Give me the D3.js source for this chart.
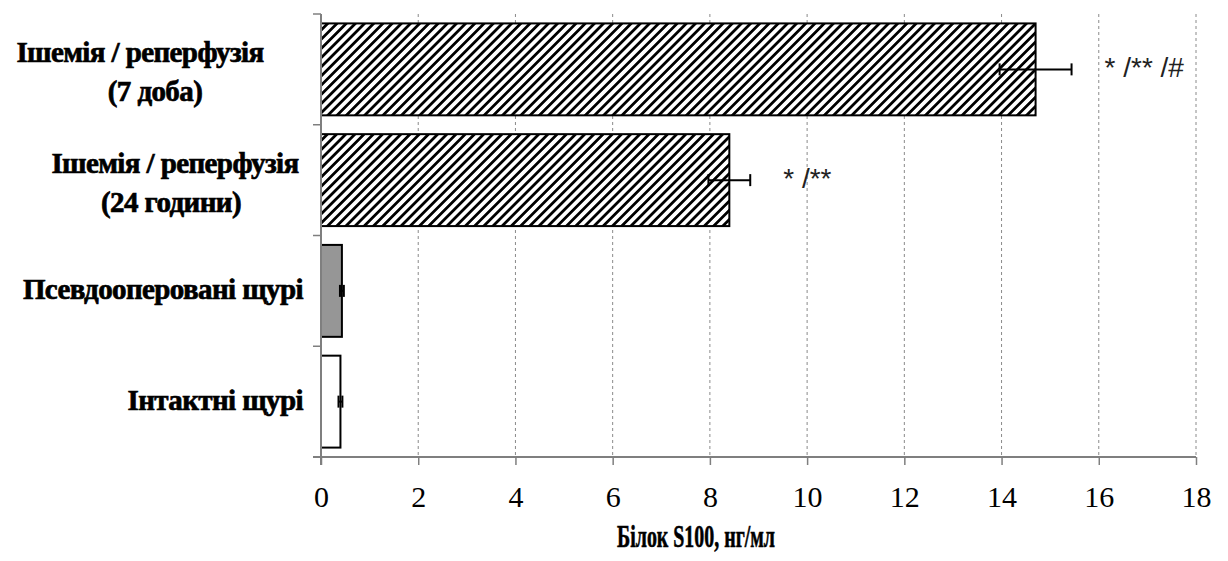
<!DOCTYPE html>
<html>
<head>
<meta charset="utf-8">
<script src="https://cdnjs.cloudflare.com/ajax/libs/d3/7.8.5/d3.min.js"></script>
<style>
  body { margin: 0; background: #fff; }
  svg { display: block; }
</style>
</head>
<body>
<div id="chart"></div>
<script>
// дані (зверху вниз)
const categories = ["Ішемія / реперфузія (7 доба)", "Ішемія / реперфузія (24 години)", "Псевдооперовані щурі", "Інтактні щурі"];
const labelLines = [["Ішемія / реперфузія", "(7 доба)"], ["Ішемія / реперфузія", "(24 години)"], ["Псевдооперовані щурі"], ["Інтактні щурі"]];
const values = [14.7, 8.4, 0.43, 0.40];
const errors = [0.74, 0.43, 0.04, 0.04];
const marks = ["* /** /#", "* /**", "", ""];
const fills = ["hatch", "hatch", "gray", "white"];
const xTicks = [0, 2, 4, 6, 8, 10, 12, 14, 16, 18];
const xTitle = "Білок S100, нг/мл";

// параметри
const W = 1228, H = 561;
const pLeft = 321, pRight = 1196, pTop = 14, pBottom = 457;
const serif = "'Liberation Serif', 'Times New Roman', serif";

const svg = d3.select("#chart").append("svg")
  .attr("width", W).attr("height", H);

const defs = svg.append("defs");
const pat = defs.append("pattern")
  .attr("id", "hatch")
  .attr("patternUnits", "userSpaceOnUse")
  .attr("width", 6.5).attr("height", 6.5)
  .attr("patternTransform", "rotate(45)");
pat.append("rect").attr("width", 6.5).attr("height", 6.5).attr("fill", "#fff");
pat.append("line")
  .attr("x1", 0).attr("y1", -1).attr("x2", 0).attr("y2", 8)
  .attr("stroke", "#000").attr("stroke-width", 5.6);

const x = d3.scaleLinear().domain([0, 18]).range([pLeft, pRight]);
const y = d3.scaleBand().domain(categories).range([pTop, pBottom])
  .paddingInner(0.17).paddingOuter(0.085);

// сітка
svg.append("g").selectAll("line")
  .data(xTicks.slice(1))
  .join("line")
  .attr("x1", d => x(d)).attr("x2", d => x(d))
  .attr("y1", pTop).attr("y2", pBottom)
  .attr("stroke", "#8a8a8a").attr("stroke-width", 1)
  .attr("stroke-dasharray", "3,3");

// стовпці
const fillOf = f => f === "hatch" ? "url(#hatch)" : (f === "gray" ? "#969696" : "#fff");
svg.append("g").selectAll("rect")
  .data(categories)
  .join("rect")
  .attr("x", x(0))
  .attr("y", d => y(d))
  .attr("width", (d, i) => x(values[i]) - x(0))
  .attr("height", y.bandwidth())
  .attr("fill", (d, i) => fillOf(fills[i]))
  .attr("stroke", "#000").attr("stroke-width", 2);

// похибки
const eb = svg.append("g").attr("stroke", "#000").attr("stroke-width", 2);
categories.forEach((c, i) => {
  const cy = y(c) + y.bandwidth() / 2;
  const x0 = x(values[i] - errors[i]), x1 = x(values[i] + errors[i]);
  eb.append("line").attr("x1", x0).attr("x2", x1).attr("y1", cy).attr("y2", cy);
  eb.append("line").attr("x1", x0).attr("x2", x0).attr("y1", cy - 6).attr("y2", cy + 6);
  eb.append("line").attr("x1", x1).attr("x2", x1).attr("y1", cy - 6).attr("y2", cy + 6);
});

// позначки значущості
svg.append("g").selectAll("text")
  .data(categories)
  .join("text")
  .attr("x", (d, i) => x(values[i] + errors[i]) + 33)
  .attr("y", d => y(d) + y.bandwidth() / 2 + 8)
  .attr("font-family", "'Liberation Sans', Arial, sans-serif")
  .attr("font-size", 28)
  .attr("fill", "#222")
  .text((d, i) => marks[i]);

// вісь X
const xAxis = svg.append("g").attr("transform", `translate(0,${pBottom})`)
  .call(d3.axisBottom(x).tickValues(xTicks).tickSize(8).tickPadding(21).tickFormat(d3.format("d")));
xAxis.select(".domain").attr("stroke", "#7f7f7f").attr("stroke-width", 2)
  .attr("d", `M${pLeft - 8},0H${pRight}`);
xAxis.selectAll(".tick line").attr("stroke", "#7f7f7f").attr("stroke-width", 1.5);
xAxis.selectAll(".tick text")
  .attr("font-family", serif).attr("font-size", 30).attr("fill", "#000")
  .attr("dy", "0.71em");

// вісь Y
svg.append("line")
  .attr("x1", pLeft).attr("x2", pLeft).attr("y1", pTop).attr("y2", pBottom + 8)
  .attr("stroke", "#7f7f7f").attr("stroke-width", 2);
const bounds = d3.range(categories.length).map(i => pTop + i * y.step());
svg.append("g").selectAll("line")
  .data(bounds)
  .join("line")
  .attr("x1", pLeft - 8).attr("x2", pLeft)
  .attr("y1", d => d).attr("y2", d => d)
  .attr("stroke", "#7f7f7f").attr("stroke-width", 1.5);

// підписи категорій
const labelLayout = [
  [{x: 140, a: "middle"}, {x: 155, a: "middle"}],
  [{x: 175, a: "middle"}, {x: 171, a: "middle"}],
  [{x: 303, a: "end"}],
  [{x: 303, a: "end"}]
];
categories.forEach((c, i) => {
  const lines = labelLines[i];
  const cy = y(c) + y.bandwidth() / 2;
  const lh = 39;
  const base = lines.length > 1 ? cy + 12 : cy + 8;
  lines.forEach((t, j) => {
    svg.append("text")
      .attr("x", labelLayout[i][j].x)
      .attr("y", base + (j - (lines.length - 1) / 2) * lh)
      .attr("text-anchor", labelLayout[i][j].a)
      .attr("font-family", serif)
      .attr("font-weight", "bold")
      .attr("font-size", 29)
      .attr("letter-spacing", -0.6)
      .attr("fill", "#000")
      .attr("stroke", "#000").attr("stroke-width", 0.7)
      .text(t);
  });
});

// назва осі
svg.append("text")
  .attr("x", 696).attr("y", 547)
  .attr("text-anchor", "middle")
  .attr("font-family", serif)
  .attr("font-weight", "bold")
  .attr("font-size", 31)
  .attr("textLength", 158)
  .attr("lengthAdjust", "spacingAndGlyphs")
  .attr("fill", "#000")
  .attr("stroke", "#000").attr("stroke-width", 0.6)
  .text(xTitle);
</script>
</body>
</html>
